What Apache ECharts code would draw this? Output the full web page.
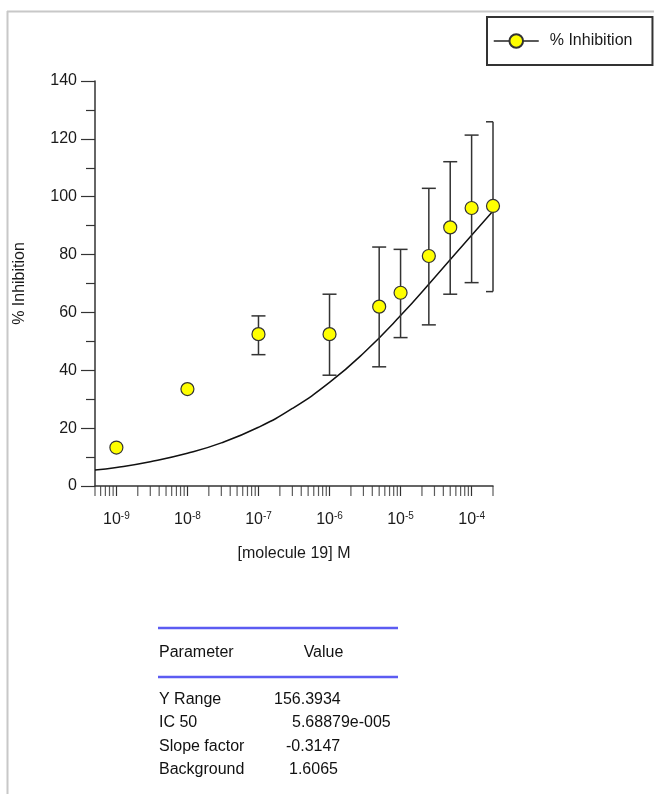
<!DOCTYPE html>
<html>
<head>
<meta charset="utf-8">
<script src="https://cdn.jsdelivr.net/npm/echarts@6/dist/echarts.min.js"></script>
<style>
  html, body { margin: 0; padding: 0; background: #fff; }
  #chart { width: 654px; height: 794px; }
</style>
</head>
<body>
<div id="chart"></div>
<script>
// measured points
const conc = [1e-9, 1e-8, 1e-7, 1e-6, 5e-6, 1e-5, 2.5e-5, 5e-5, 1e-4, 2e-4]
const inhibition = [13.3, 33.5, 52.5, 52.5, 62.0, 66.8, 79.5, 89.4, 96.1, 96.8]
const errLow = [null, null, 45.4, 38.3, 41.2, 51.3, 55.7, 66.3, 70.3, 67.2]
const errHigh = [null, null, 58.8, 66.3, 82.6, 81.8, 102.9, 112.1, 121.3, 125.9]

// fitted curve
const fitConc = [5e-10, 1e-9, 3e-9, 1e-8, 3e-8, 1e-7, 3e-7, 1e-6, 3e-6, 1e-5, 3e-5, 1e-4, 2e-4]
const fitValue = [5.5, 6.4, 8.4, 11.3, 14.9, 20.3, 26.8, 35.8, 45.9, 58.9, 72.0, 86.7, 95.1]

// x axis minor ticks (2..9 of each decade)
const tickDecades = [1e-10, 1e-9, 1e-8, 1e-7, 1e-6, 1e-5, 1e-4]
const tickSteps = [2, 3, 4, 5, 6, 7, 8, 9]

// parameter table
const paramNames = ['Y Range', 'IC 50', 'Slope factor', 'Background']
const paramValues = ['156.3934', '5.68879e-005', '-0.3147', '1.6065']

const xMin = 5e-10
const xMax = 2e-4
const ink = '#1a1a1a'
const fs = 16

const chart = echarts.init(document.getElementById('chart'))

const minorTicks = []
tickDecades.forEach(d => {
    tickSteps.forEach(s => {
        const v = d * s
        if (v >= xMin * 0.999 && v <= xMax * 1.001) minorTicks.push([v, 0])
    })
})

const pointData = conc.map((c, i) => [c, inhibition[i]])
const errData = []
conc.forEach((c, i) => {
    if (errLow[i] != null) errData.push([c, errLow[i], errHigh[i]])
})
const fitData = fitConc.map((c, i) => [c, fitValue[i]])

function renderErr(params, api) {
    const x = api.value(0)
    const top = api.coord([x, api.value(2)])
    const bot = api.coord([x, api.value(1)])
    const right = params.coordSys.x + params.coordSys.width
    const hw = 7
    const style = { stroke: '#333', lineWidth: 1.5 }
    return {
        type: 'group',
        children: [
            { type: 'line', shape: { x1: top[0], y1: top[1], x2: bot[0], y2: bot[1] }, style },
            { type: 'line', shape: { x1: top[0] - hw, y1: top[1], x2: Math.min(top[0] + hw, right), y2: top[1] }, style },
            { type: 'line', shape: { x1: bot[0] - hw, y1: bot[1], x2: Math.min(bot[0] + hw, right), y2: bot[1] }, style }
        ]
    }
}

// table graphics
const rowY = [700, 723, 747, 770]
const valueX = [274, 292, 286, 289]
const tableText = { fontSize: fs, fontFamily: 'Liberation Sans', fill: '#111' }
const tableGraphics = [
    { type: 'line', shape: { x1: 158, y1: 628, x2: 398, y2: 628 }, style: { stroke: '#5c5cf2', lineWidth: 2.5 } },
    { type: 'line', shape: { x1: 158, y1: 677, x2: 398, y2: 677 }, style: { stroke: '#5c5cf2', lineWidth: 2.5 } },
    { type: 'text', x: 159, y: 653, style: Object.assign({ text: 'Parameter', textVerticalAlign: 'middle' }, tableText) },
    { type: 'text', x: 323.5, y: 653, style: Object.assign({ text: 'Value', textAlign: 'center', textVerticalAlign: 'middle' }, tableText) }
]
paramNames.forEach((n, i) => {
    tableGraphics.push({ type: 'text', x: 159, y: rowY[i], style: Object.assign({ text: n, textVerticalAlign: 'middle' }, tableText) })
    tableGraphics.push({ type: 'text', x: valueX[i], y: rowY[i], style: Object.assign({ text: paramValues[i], textVerticalAlign: 'middle' }, tableText) })
})

chart.setOption({
    animation: false,
    textStyle: { fontFamily: 'Liberation Sans' },
    graphic: [
        { type: 'line', shape: { x1: 7.5, y1: 11, x2: 7.5, y2: 794 }, style: { stroke: '#c8c8c8', lineWidth: 2 } },
        { type: 'line', shape: { x1: 7, y1: 11.5, x2: 654, y2: 11.5 }, style: { stroke: '#c8c8c8', lineWidth: 2 } }
    ].concat(tableGraphics),
    legend: {
        data: ['% Inhibition'],
        left: 487,
        top: 17,
        orient: 'horizontal',
        padding: [16, 20, 16, 6],
        borderColor: '#333',
        borderWidth: 2,
        borderRadius: 0,
        itemWidth: 45,
        itemHeight: 17,
        textStyle: { fontSize: fs, color: ink, padding: [2, 0, 0, 6] },
        lineStyle: { color: '#222', width: 1.5, opacity: 1 }
    },
    grid: { left: 95, right: 161, top: 81, bottom: 308, containLabel: false },
    xAxis: {
        type: 'log',
        logBase: 10,
        min: xMin,
        max: xMax,
        name: '[molecule 19] M',
        nameLocation: 'middle',
        nameGap: 60,
        nameTextStyle: { fontSize: fs, color: ink },
        axisLine: { lineStyle: { color: '#333', width: 1.5 } },
        axisTick: { length: 10, lineStyle: { color: '#333', width: 1.2 } },
        splitLine: { show: false },
        axisLabel: {
            showMinLabel: false,
            showMaxLabel: false,
            margin: 25,
            formatter: v => '10{sup|' + Math.round(Math.log10(v)) + '}',
            fontSize: fs,
            color: ink,
            rich: {
                sup: { fontSize: 10, color: ink, verticalAlign: 'top', padding: [0, 0, 7, 0] }
            }
        }
    },
    yAxis: {
        type: 'value',
        min: 0,
        max: 140,
        interval: 20,
        name: '% Inhibition',
        nameLocation: 'middle',
        nameGap: 67,
        nameTextStyle: { fontSize: fs, color: ink },
        axisLine: { show: true, lineStyle: { color: '#333', width: 1.5 } },
        axisTick: { show: true, length: 14, lineStyle: { color: '#333', width: 1.2 } },
        minorTick: { show: true, splitNumber: 2, length: 9, lineStyle: { color: '#333', width: 1.2 } },
        splitLine: { show: false },
        axisLabel: { fontSize: fs, color: ink, margin: 18 }
    },
    series: [
        {
            name: 'minorTicks',
            type: 'scatter',
            data: minorTicks,
            symbol: 'rect',
            symbolSize: [1.2, 10],
            symbolOffset: [0, 5],
            itemStyle: { color: '#333' },
            clip: false,
            silent: true,
            z: 1
        },
        {
            name: 'fit',
            type: 'line',
            data: fitData,
            smooth: true,
            showSymbol: false,
            lineStyle: { color: '#111', width: 1.5 },
            z: 2
        },
        {
            name: 'err',
            type: 'custom',
            renderItem: renderErr,
            data: errData,
            z: 3
        },
        {
            name: '% Inhibition',
            type: 'line',
            data: pointData,
            symbol: 'circle',
            symbolSize: 13,
            showSymbol: true,
            lineStyle: { opacity: 0 },
            itemStyle: { color: '#ffff00', borderColor: '#333', borderWidth: 1.2 },
            z: 4
        }
    ]
})
</script>
</body>
</html>
